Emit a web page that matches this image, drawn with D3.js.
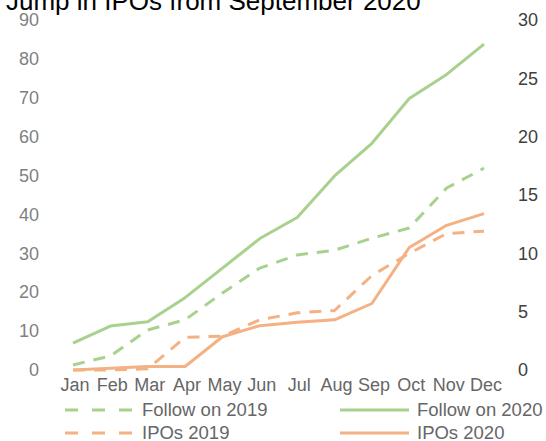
<!DOCTYPE html>
<html>
<head>
<meta charset="utf-8">
<script src="https://cdn.jsdelivr.net/npm/d3@7"></script>
<style>
  html, body { margin: 0; padding: 0; background: #fff; }
  svg { display: block; font-family: "Liberation Sans", Arial, sans-serif; }
</style>
</head>
<body>
<svg id="chart" width="546" height="441"></svg>
<script>
// Monthly categories
const months = ["Jan", "Feb", "Mar", "Apr", "May", "Jun", "Jul", "Aug", "Sep", "Oct", "Nov", "Dec"];

// Follow-on offerings (left axis)
const followOn2019 = [1.3, 3.6, 10.3, 12.9, 19.8, 26.2, 29.6, 30.8, 33.9, 36.5, 46.8, 51.9];
const followOn2020 = [6.9, 11.3, 12.4, 18.6, 26.2, 33.8, 39.2, 49.9, 58.3, 69.8, 76.0, 83.8];

// IPOs (right axis)
const ipos2019 = [0.0, 0.0, 0.1, 2.8, 2.9, 4.3, 4.9, 5.1, 8.1, 10.0, 11.7, 11.9];
const ipos2020 = [0.0, 0.15, 0.3, 0.3, 2.85, 3.8, 4.1, 4.3, 5.7, 10.5, 12.4, 13.4];

// Axis ticks
const leftTicks = [0, 10, 20, 30, 40, 50, 60, 70, 80, 90];
const rightTicks = [0, 5, 10, 15, 20, 25, 30];

const title = "Jump in IPOs from September 2020";

const green = "#A9D18E";
const orange = "#F4B183";

const series = [
  { name: "Follow on 2019", values: followOn2019, axis: "left", color: green, dashed: true },
  { name: "Follow on 2020", values: followOn2020, axis: "left", color: green, dashed: false },
  { name: "IPOs 2019", values: ipos2019, axis: "right", color: orange, dashed: true },
  { name: "IPOs 2020", values: ipos2020, axis: "right", color: orange, dashed: false }
];

const svg = d3.select("#chart");

const x = d3.scalePoint().domain(months).range([73, 484]);
const yLeft = d3.scaleLinear().domain([0, 90]).range([370, 20]);
const yRight = d3.scaleLinear().domain([0, 30]).range([370, 20]);

// Title (partly above the top edge)
svg.append("text")
  .attr("x", 6)
  .attr("y", 10)
  .attr("font-size", 26)
  .attr("fill", "#000")
  .text(title);

// Left axis labels
const leftAxis = d3.axisLeft(yLeft).tickValues(leftTicks).tickSize(0).tickPadding(0);
const gl = svg.append("g").attr("transform", "translate(39,0)").call(leftAxis);
gl.select(".domain").remove();
gl.selectAll("text").attr("font-size", 18).attr("fill", "#7f7f7f")
  .attr("font-family", "Liberation Sans, Arial, sans-serif");

// Right axis labels
const rightAxis = d3.axisRight(yRight).tickValues(rightTicks).tickSize(0).tickPadding(0);
const gr = svg.append("g").attr("transform", "translate(518,0)").call(rightAxis);
gr.select(".domain").remove();
gr.selectAll("text").attr("font-size", 18).attr("fill", "#404040")
  .attr("font-family", "Liberation Sans, Arial, sans-serif");

// Month labels
const bottomAxis = d3.axisBottom(x).tickSize(0).tickPadding(0);
const gb = svg.append("g").attr("transform", "translate(0,378)").call(bottomAxis);
gb.select(".domain").remove();
gb.selectAll("text").attr("font-size", 18).attr("fill", "#666")
  .attr("dx", 1.5)
  .attr("font-family", "Liberation Sans, Arial, sans-serif");

// Lines
series.forEach(s => {
  const yScale = s.axis === "left" ? yLeft : yRight;
  const line = d3.line().x((d, i) => x(months[i])).y(d => yScale(d));
  svg.append("path")
    .datum(s.values)
    .attr("fill", "none")
    .attr("stroke", s.color)
    .attr("stroke-width", 3)
    .attr("stroke-linejoin", "round")
    .attr("stroke-dasharray", s.dashed ? "12,9" : null)
    .attr("d", line);
});

// Legend (two columns, two rows)
const legendPos = [
  { x: 65, y: 410 },
  { x: 340, y: 410 },
  { x: 65, y: 433 },
  { x: 340, y: 433 }
];
series.forEach((s, i) => {
  const p = legendPos[i];
  const g = svg.append("g");
  g.append("line")
    .attr("x1", p.x).attr("x2", p.x + 69)
    .attr("y1", p.y).attr("y2", p.y)
    .attr("stroke", s.color)
    .attr("stroke-width", 3)
    .attr("stroke-dasharray", s.dashed ? "13,14" : null);
  g.append("text")
    .attr("x", p.x + 77)
    .attr("y", p.y + 6)
    .attr("font-size", 18.5)
    .attr("fill", "#666")
    .text(s.name);
});
</script>
</body>
</html>
